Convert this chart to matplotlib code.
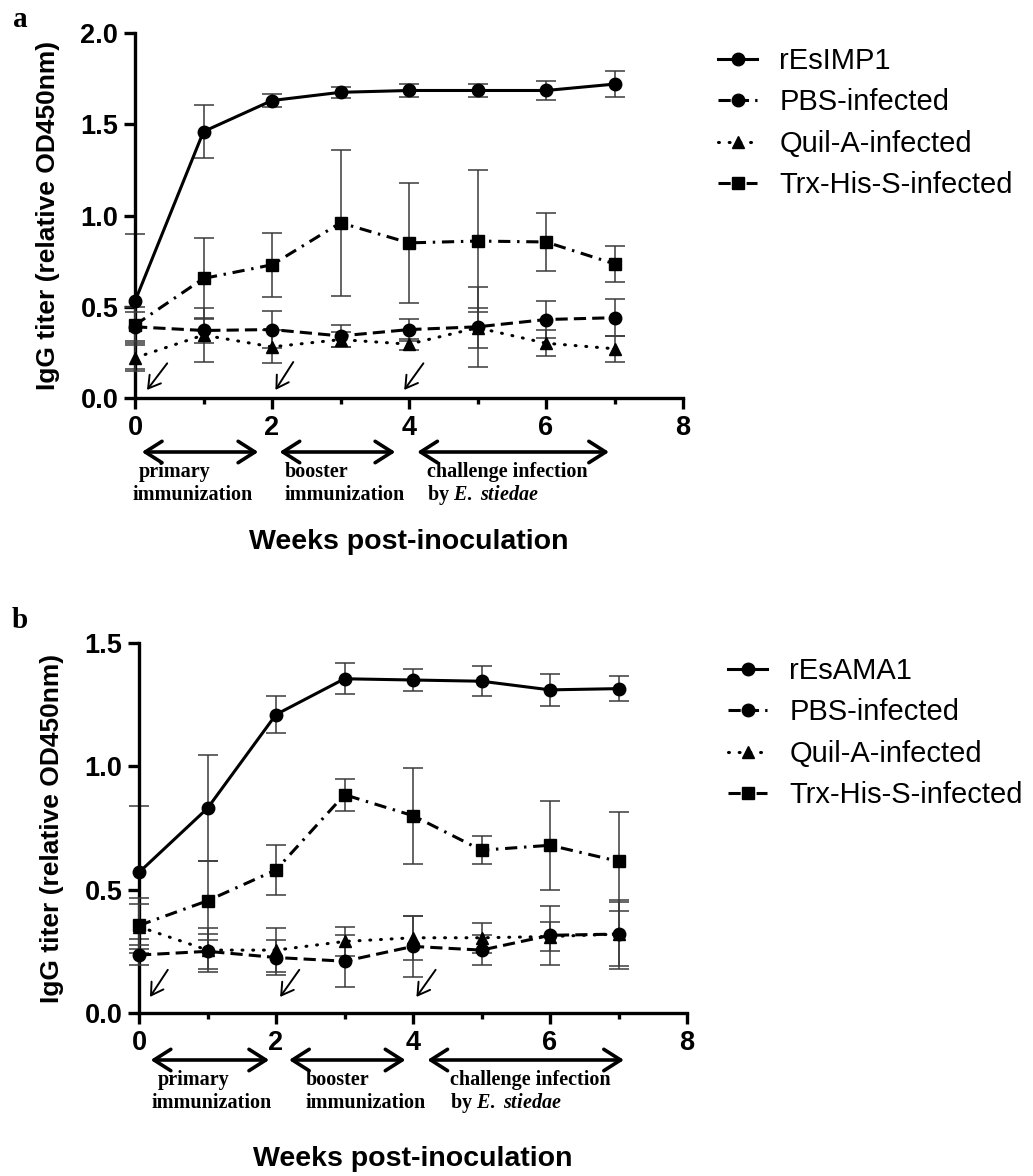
import matplotlib
matplotlib.use("Agg")
import matplotlib.pyplot as plt
import numpy as np

plt.rcParams['font.family'] = ['Liberation Sans', 'DejaVu Sans']
plt.rcParams['mathtext.fontset'] = 'custom'
plt.rcParams['mathtext.rm'] = 'Liberation Serif:bold'
plt.rcParams['mathtext.it'] = 'Liberation Serif:bold:italic'

weeks = [0, 1, 2, 3, 4, 5, 6, 7]
group_labels = ["PBS-infected", "Quil-A-infected", "Trx-His-S-infected"]

# panel a : rEsIMP1
imp1 = [0.53, 1.46, 1.63, 1.675, 1.685, 1.685, 1.685, 1.72]
imp1_err = [0.37, 0.145, 0.035, 0.03, 0.035, 0.035, 0.05, 0.07]
pbs_a = [0.39, 0.37, 0.375, 0.34, 0.375, 0.39, 0.43, 0.44]
pbs_a_err = [0.08, 0.07, 0.1, 0.06, 0.06, 0.22, 0.1, 0.1]
quil_a = [0.22, 0.345, 0.28, 0.32, 0.295, 0.385, 0.30, 0.27]
quil_a_err = [0.07, 0.15, 0.09, 0.04, 0.03, 0.11, 0.07, 0.07]
trx_a = [0.40, 0.655, 0.73, 0.96, 0.85, 0.86, 0.855, 0.735]
trx_a_err = [0.1, 0.22, 0.175, 0.4, 0.33, 0.39, 0.16, 0.1]

# panel b : rEsAMA1
ama1 = [0.57, 0.83, 1.21, 1.355, 1.35, 1.345, 1.31, 1.315]
ama1_err = [0.27, 0.215, 0.075, 0.063, 0.045, 0.06, 0.065, 0.05]
pbs_b = [0.235, 0.25, 0.225, 0.21, 0.27, 0.255, 0.315, 0.32]
pbs_b_err = [0.04, 0.07, 0.07, 0.105, 0.125, 0.06, 0.12, 0.14]
quil_b = [0.35, 0.255, 0.255, 0.29, 0.305, 0.305, 0.31, 0.32]
quil_b_err = [0.09, 0.09, 0.09, 0.06, 0.09, 0.06, 0.06, 0.13]
trx_b = [0.355, 0.455, 0.58, 0.885, 0.80, 0.66, 0.68, 0.615]
trx_b_err = [0.11, 0.16, 0.1, 0.065, 0.195, 0.057, 0.18, 0.2]

phases = [("primary", "immunization"), ("booster", "immunization"),
          ("challenge infection", r"by $\mathit{E.\ stiedae}$")]

styles = [dict(ls='-', marker='o', ms=9),
          dict(ls=(0, (4, 2)), marker='o', ms=9),
          dict(ls=(0, (0.3, 3.2)), marker='^', ms=9, dash_capstyle='round'),
          dict(ls=(0, (4, 2.2, 0.8, 2.2)), marker='s', ms=8.5)]

fig = plt.figure(figsize=(10.33, 11.76), dpi=100)
W, H = 1033, 1176


def panel(rect, series, errs, labels, ymax, yticks, small_arrows, dbl, dbl_y,
          text_x, text_y, leg_xy):
    ax = fig.add_axes(rect)
    for k in range(3, -1, -1):
        ax.errorbar(weeks, series[k], yerr=errs[k], fmt='none', ecolor='#3a3a3a',
                    elinewidth=1.1, capsize=7, capthick=1.1, zorder=2 + k, clip_on=False)
        ax.plot(weeks, series[k], color='black', lw=2.2, label=labels[k],
                mfc='black', mec='black', zorder=10 + (3 - k), clip_on=False, **styles[k])
    ax.set_xlim(0, 8)
    ax.set_ylim(0, ymax)
    ax.set_xticks([0, 2, 4, 6, 8])
    ax.set_xticks([1, 3, 5, 7], minor=True)
    ax.set_yticks(yticks)
    ax.set_yticklabels(["%.1f" % v for v in yticks])
    for s in ['top', 'right']:
        ax.spines[s].set_visible(False)
    for s in ['left', 'bottom']:
        ax.spines[s].set_linewidth(2.4)
    ax.tick_params(which='major', length=8, width=2.4, labelsize=19.5, pad=4)
    ax.tick_params(which='minor', length=4, width=2.4)
    for t in ax.get_xticklabels() + ax.get_yticklabels():
        t.set_fontweight('bold')

    ax.set_ylabel("IgG titer (relative OD450nm)", fontsize=19, fontweight='bold')
    ax.yaxis.set_label_coords(-0.137, 0.5)
    ax.set_xlabel("Weeks post-inoculation", fontsize=20.5, fontweight='bold')
    ax.xaxis.set_label_coords(0.5, -0.36)

    for (x0, y0, x1, y1) in small_arrows:
        ax.annotate("", xy=(x1, y1), xytext=(x0, y0),
                    arrowprops=dict(arrowstyle='->,head_length=0.5,head_width=0.3', lw=1.4,
                                    color='black', mutation_scale=17, shrinkA=0, shrinkB=0),
                    annotation_clip=False)
    for (x0, x1) in dbl:
        ax.annotate("", xy=(x1, dbl_y), xytext=(x0, dbl_y),
                    xycoords=('data', 'axes fraction'), textcoords=('data', 'axes fraction'),
                    arrowprops=dict(arrowstyle='<->,head_length=0.55,head_width=0.35',
                                    lw=2.6, color='black', mutation_scale=22,
                                    shrinkA=0, shrinkB=0), annotation_clip=False)
    for (l1, l2), (tx1, tx2) in zip(phases, text_x):
        ax.text(tx1, text_y[0], l1, transform=ax.get_xaxis_transform(), ha='left',
                va='baseline', fontsize=14.5, fontweight='bold', family='Liberation Serif')
        ax.text(tx2, text_y[1], l2, transform=ax.get_xaxis_transform(), ha='left',
                va='baseline', fontsize=14.5, fontweight='bold', family='Liberation Serif')

    h, l = ax.get_legend_handles_labels()
    ax.legend(h[::-1], l[::-1], loc='upper left', bbox_to_anchor=leg_xy,
              bbox_transform=fig.transFigure, frameon=False, fontsize=21,
              borderpad=0, borderaxespad=0, handlelength=1.35, handletextpad=0.75,
              labelspacing=0.46)
    return ax


# panel a geometry (pixels)
la, ra, ba, ta = 135, 683, 398, 33
ax_a = panel([la / W, 1 - ba / H, (ra - la) / W, (ba - ta) / H],
             [imp1, pbs_a, quil_a, trx_a], [imp1_err, pbs_a_err, quil_a_err, trx_a_err],
             ["rEsIMP1"] + group_labels, 2.0, [0.0, 0.5, 1.0, 1.5, 2.0],
             [(0.47, 0.19, 0.175, 0.044), (2.31, 0.197, 2.05, 0.044), (4.21, 0.19, 3.93, 0.044)],
             [(0.1, 1.8), (2.11, 3.8), (4.12, 6.92)], -54 / 365,
             [(0.05, -0.03), (2.18, 2.18), (4.27, 4.27)], (-79 / 365, -102 / 365),
             (718 / W, 1 - 47 / H))

lb, rb, bb, tb = 139, 687, 1013, 643
ax_b = panel([lb / W, 1 - bb / H, (rb - lb) / W, (bb - tb) / H],
             [ama1, pbs_b, quil_b, trx_b], [ama1_err, pbs_b_err, quil_b_err, trx_b_err],
             ["rEsAMA1"] + group_labels, 1.5, [0.0, 0.5, 1.0, 1.5],
             [(0.42, 0.175, 0.16, 0.065), (2.34, 0.175, 2.06, 0.065), (4.33, 0.175, 4.05, 0.065)],
             [(0.17, 1.9), (2.19, 3.89), (4.21, 7.08)], -47 / 370,
             [(0.28, 0.19), (2.43, 2.43), (4.54, 4.54)], (-72 / 370, -95 / 370),
             (728 / W, 1 - 657 / H))

fig.text(13 / W, 1 - 27 / H, "a", fontsize=21, fontweight='bold', family='Liberation Serif',
         va='baseline')
fig.text(12 / W, 1 - 628 / H, "b", fontsize=21, fontweight='bold', family='Liberation Serif',
         va='baseline')

fig.savefig("out.png", dpi=100)
